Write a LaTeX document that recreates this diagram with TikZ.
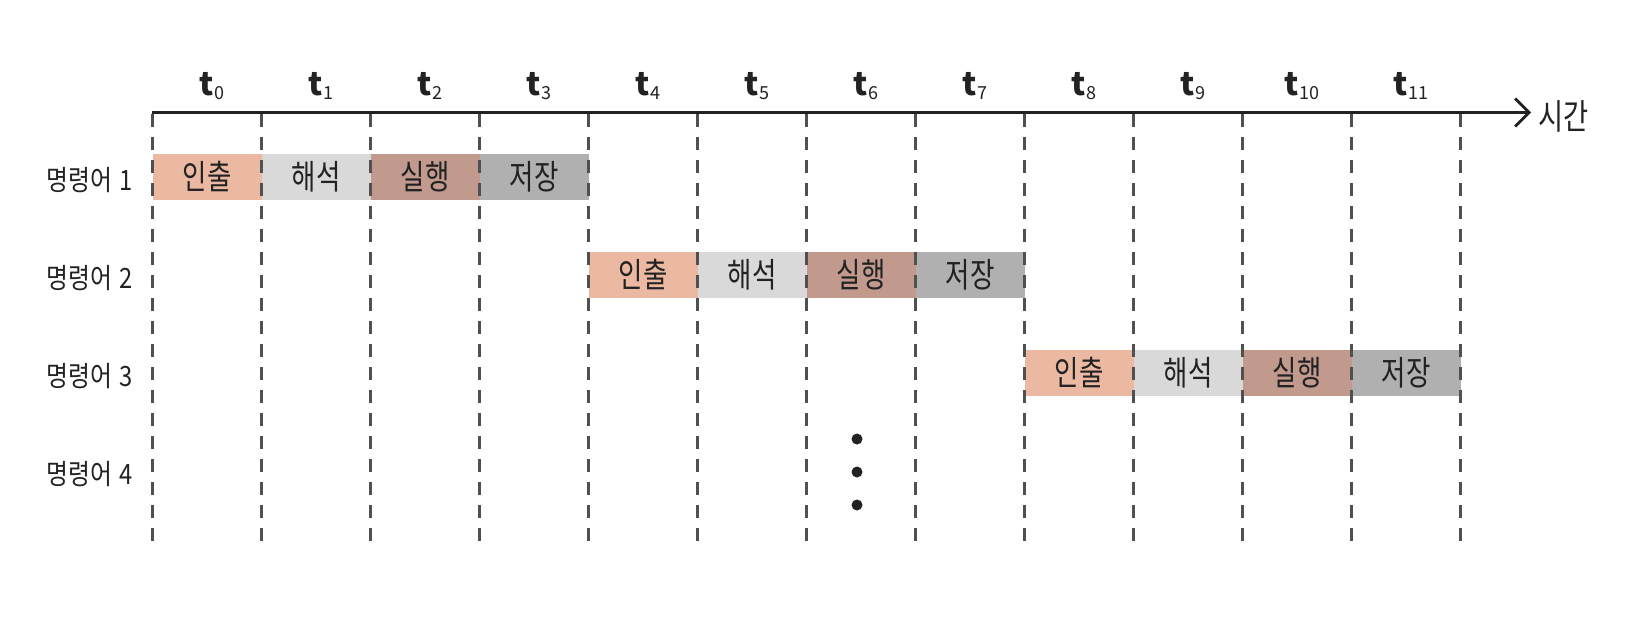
\documentclass[tikz,border=0pt]{standalone}
\usepackage{graphicx}
\usepackage{fontspec}
\setmainfont{Noto Sans CJK KR}
\usetikzlibrary{arrows.meta}
\definecolor{cFetch}{RGB}{235,184,162}
\definecolor{cDecode}{RGB}{217,217,217}
\definecolor{cExec}{RGB}{193,154,141}
\definecolor{cStore}{RGB}{176,176,176}
\definecolor{cInk}{RGB}{34,34,34}
\definecolor{cDash}{RGB}{80,80,80}
\newcommand{\hw}[2][0.78]{\scalebox{#1}[1]{#2}}

\begin{document}
\begin{tikzpicture}[x=1pt,y=-1pt,
  stagebox/.style={anchor=west, minimum width=109pt, minimum height=46pt, inner sep=0pt, outer sep=0pt, text=cInk, font=\fontsize{34}{36}\selectfont},
  rowlabel/.style={anchor=east, inner sep=0pt, text=cInk, font=\fontsize{28}{30}\selectfont},
  ticklabel/.style={inner sep=0pt, text=cInk, font=\fontsize{32}{34}\selectfont\bfseries},
  gridline/.style={draw=cDash, line width=2.6pt, dash pattern=on 13pt off 10pt},
  timeaxis/.style={draw=cInk, line width=2.8pt, -{Straight Barb[length=14pt,width=28pt]}}]
\useasboundingbox (0,0) rectangle (1651,622);

% Stage Boxes
\foreach \r/\yy in {1/177,2/275,3/373} {
  \foreach \s/\name/\col [count=\k from 0] in {fetch/인출/cFetch,decode/해석/cDecode,exec/실행/cExec,store/저장/cStore} {
    \node[stagebox, fill=\col] (\s\r) at ({152.5+109*(4*\r-4+\k)},\yy) {\hw{\name}};
  }
}

% Grid Lines
\foreach \i in {0,...,12} {
  \coordinate (gtop\i) at ({152.5+109*\i},114);
  \coordinate (gbot\i) at ({152.5+109*\i},543);
  \draw[gridline] (gtop\i) -- (gbot\i);
}

%Time Axis
\coordinate (axstart) at (151.5,112.5);
\coordinate (axend) at (1531,112.5);
\draw[timeaxis] (axstart) -- (axend);
\node[anchor=west, inner sep=0pt, text=cInk, font=\fontsize{35}{38}\selectfont] (timelbl) at (1538,116) {\hw{시간}};

% Tick Labels
\foreach \i in {0,...,11} {
  \node[ticklabel] (tick\i) at ({152.5+109*(\i+0.5)+5},86) {t\raisebox{-4pt}{\fontsize{18}{18}\selectfont\mdseries\i}};
}

% Row Labels
\foreach \r/\yy in {1/180,2/278,3/376,4/474} {
  \node[rowlabel] (row\r) at (133,\yy) {\hw[0.85]{명령어\hspace{9pt}\r}};
}

% Dots
\foreach \yy [count=\d] in {439,472,505} {
  \fill[cInk] (857,\yy) circle (5.5pt);
}
\end{tikzpicture}
\end{document}
